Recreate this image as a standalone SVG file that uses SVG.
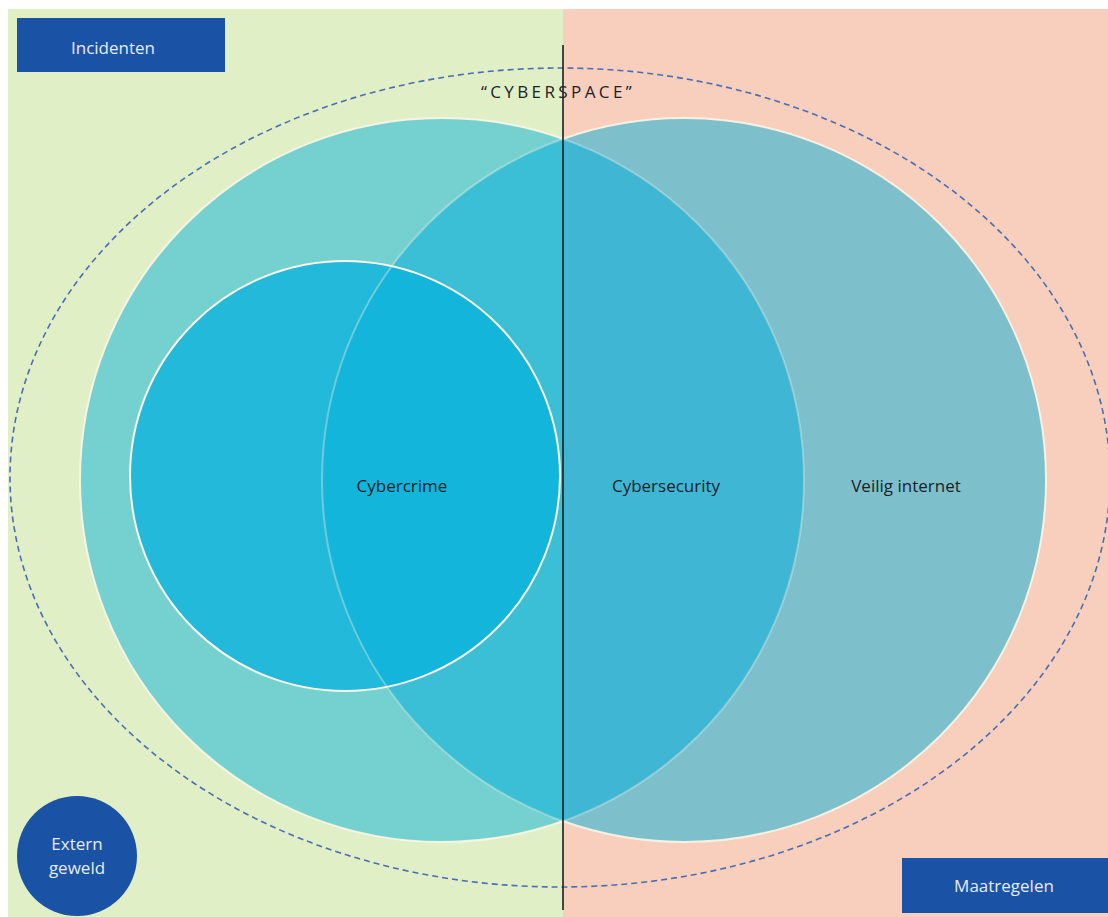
<svg xmlns="http://www.w3.org/2000/svg" width="1108" height="917" viewBox="0 0 1108 917">
<style>
.lbl{font-family:"Open Sans","Noto Sans",sans-serif;font-size:17px;fill:#1a2228;text-anchor:middle}
.wt{font-family:"Open Sans","Noto Sans",sans-serif;font-size:17px;fill:#e6ecf4;text-anchor:middle}
.ring{fill:none;stroke:#fbf6e6;stroke-width:2}
</style>
<defs>
<clipPath id="cR"><circle cx="684" cy="480" r="362"/></clipPath>
<clipPath id="cRight"><rect x="563" y="0" width="545" height="917"/></clipPath>
<clipPath id="cLeft"><rect x="0" y="0" width="563" height="917"/></clipPath>
</defs>
<rect width="1108" height="917" fill="#ffffff"/>
<g id="background">
<rect x="8" y="9" width="555" height="908" fill="#e1efc6"/>
<rect x="563" y="9" width="545" height="908" fill="#f8cebd"/>
</g>
<g id="veilig-internet">
<circle cx="684" cy="480" r="362" fill="#7ebfcc"/>
</g>
<g id="cybersecurity">
<circle cx="442" cy="480" r="362" fill="#74d1d0"/>
<circle cx="442" cy="480" r="362" fill="#3abfd6" clip-path="url(#cR)"/>
<g clip-path="url(#cRight)"><circle cx="442" cy="480" r="362" fill="#40b6d5" clip-path="url(#cR)"/></g>
</g>
<g id="cybercrime">
<circle cx="345" cy="476" r="215" fill="#22b9db"/>
<circle cx="345" cy="476" r="215" fill="#13b5da" clip-path="url(#cR)"/>
</g>
<g id="rings">
<g clip-path="url(#cLeft)">
<circle cx="442" cy="480" r="362" class="ring" stroke-opacity="0.9"/>
<circle cx="684" cy="480" r="362" class="ring" stroke-opacity="0.35"/>
</g>
<g clip-path="url(#cRight)">
<circle cx="684" cy="480" r="362" class="ring" stroke-opacity="0.9"/>
<circle cx="442" cy="480" r="362" class="ring" stroke-opacity="0.35"/>
</g>
<circle cx="345" cy="476" r="215" class="ring" stroke-width="2.5"/>
</g>
<g id="connectors">
<ellipse cx="560" cy="477.5" rx="550" ry="409.5" fill="none" stroke="#4a6db4" stroke-width="1.6" stroke-dasharray="6 4"/>
<line x1="563" y1="45" x2="563" y2="910" stroke="#1e1e1e" stroke-width="1.6"/>
</g>
<g id="cyberspace">
<text x="558" y="98" class="lbl" font-size="17" letter-spacing="3.4" fill="#222">“CYBERSPACE”</text>
</g>
<g id="labels">
<text x="402" y="492" class="lbl">Cybercrime</text>
<text x="666" y="492" class="lbl">Cybersecurity</text>
<text x="906" y="492" class="lbl">Veilig internet</text>
</g>
<g id="incidenten">
<rect x="17" y="18" width="208" height="54" fill="#1a52a5"/>
<text x="113" y="54" class="wt">Incidenten</text>
</g>
<g id="maatregelen">
<rect x="902" y="858" width="206" height="55" fill="#1a52a5"/>
<text x="1004" y="892" class="wt">Maatregelen</text>
</g>
<g id="extern-geweld">
<circle cx="77" cy="856" r="60" fill="#1a52a5"/>
<text x="77" y="850" class="wt">Extern</text>
<text x="77" y="874" class="wt">geweld</text>
</g>
</svg>
